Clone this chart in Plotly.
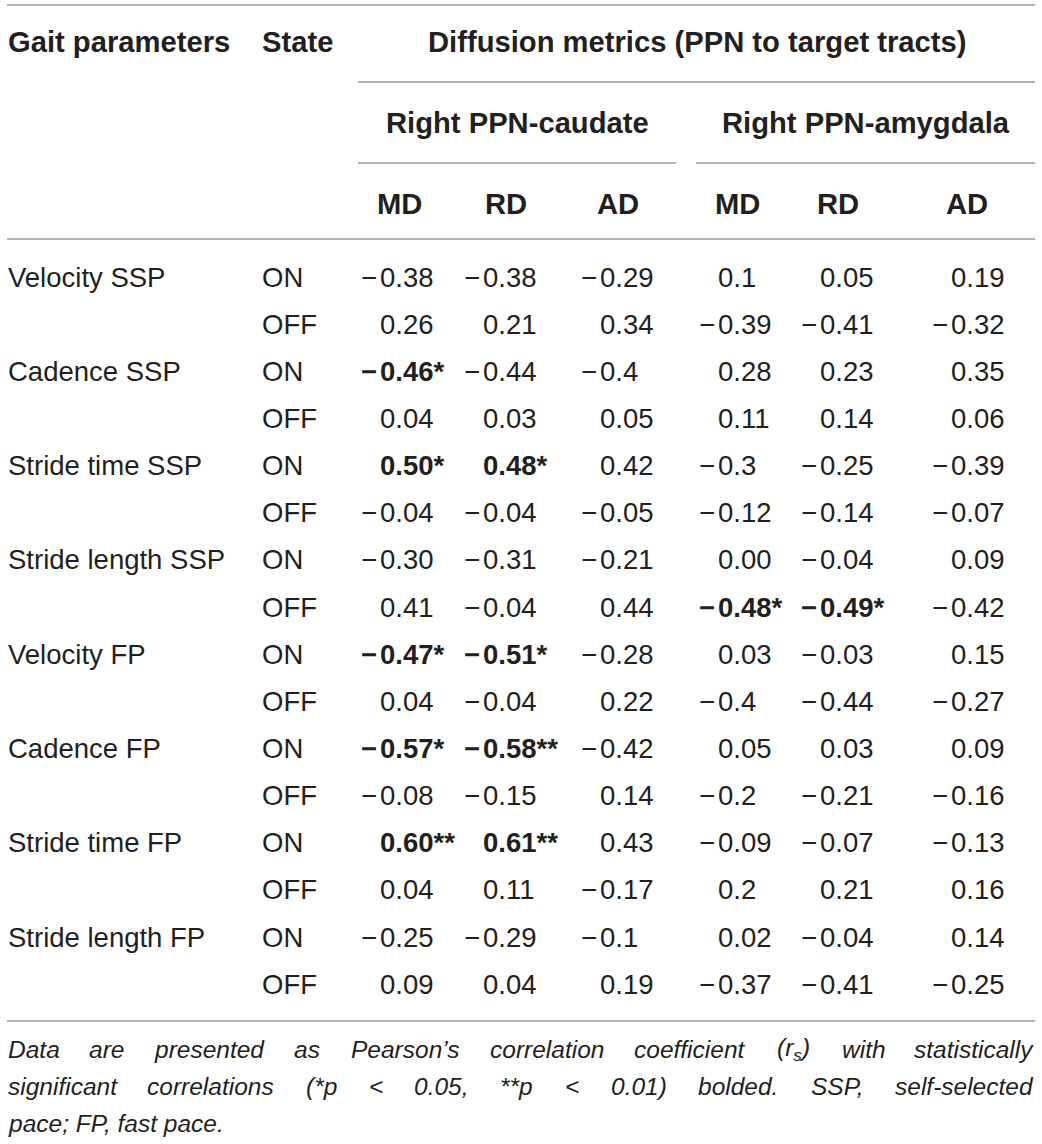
import plotly.graph_objects as go

# ---------------- table content ----------------
gait_params = ["Velocity SSP", "Cadence SSP", "Stride time SSP", "Stride length SSP",
               "Velocity FP", "Cadence FP", "Stride time FP", "Stride length FP"]
states = ["ON", "OFF"]
tracts = ["Right PPN-caudate", "Right PPN-amygdala"]
metrics = ["MD", "RD", "AD", "MD", "RD", "AD"]

caudate_md = ["−0.38", "0.26", "−0.46*", "0.04", "0.50*", "−0.04", "−0.30", "0.41",
              "−0.47*", "0.04", "−0.57*", "−0.08", "0.60**", "0.04", "−0.25", "0.09"]
caudate_rd = ["−0.38", "0.21", "−0.44", "0.03", "0.48*", "−0.04", "−0.31", "−0.04",
              "−0.51*", "−0.04", "−0.58**", "−0.15", "0.61**", "0.11", "−0.29", "0.04"]
caudate_ad = ["−0.29", "0.34", "−0.4", "0.05", "0.42", "−0.05", "−0.21", "0.44",
              "−0.28", "0.22", "−0.42", "0.14", "0.43", "−0.17", "−0.1", "0.19"]
amygdala_md = ["0.1", "−0.39", "0.28", "0.11", "−0.3", "−0.12", "0.00", "−0.48*",
               "0.03", "−0.4", "0.05", "−0.2", "−0.09", "0.2", "0.02", "−0.37"]
amygdala_rd = ["0.05", "−0.41", "0.23", "0.14", "−0.25", "−0.14", "−0.04", "−0.49*",
               "−0.03", "−0.44", "0.03", "−0.21", "−0.07", "0.21", "−0.04", "−0.41"]
amygdala_ad = ["0.19", "−0.32", "0.35", "0.06", "−0.39", "−0.07", "0.09", "−0.42",
               "0.15", "−0.27", "0.09", "−0.16", "−0.13", "0.16", "0.14", "−0.25"]
columns = [caudate_md, caudate_rd, caudate_ad, amygdala_md, amygdala_rd, amygdala_ad]

header_gait = "Gait parameters"
header_state = "State"
header_group = "Diffusion metrics (PPN to target tracts)"
footnote = [
    "Data are presented as Pearson’s correlation coefficient (r<sub>s</sub>) with statistically",
    "significant correlations (*p < 0.05, **p < 0.01) bolded. SSP, self-selected",
    "pace; FP, fast pace.",
]

# ---------------- layout constants (pixels) ----------------
W, H = 1042, 1144
LEFT, RIGHT = 7, 1035
ROW0, ROW_H = 277, 47.15
COL_X = [379, 482, 599, 717, 819, 950]        # where the leading digit starts
HEAD_X = [399, 506, 618, 737, 838, 967]
TRACT_SPAN = [(358, 676), (696, 1035)]
INK = "#231f20"
RULE = "#9a9a9a"
FONT = "Liberation Sans, Arial, Helvetica, sans-serif"
DATA_SIZE = 27.5
HEAD_SIZE = 29.2
NOTE_SIZE = 24.5

# rough Arial advance widths, 1/1000 em
_widths = {" ": 278, "i": 222, "j": 222, "l": 222, "f": 278, "t": 278, ".": 278,
           ",": 278, ";": 278, "’": 222, "r": 333, "(": 333, ")": 333, "-": 333,
           "*": 389, "<": 584, "m": 833, "w": 722, "c": 500, "k": 500, "s": 500,
           "v": 500, "x": 500, "y": 500, "z": 500, "F": 611, "P": 667, "S": 667,
           "D": 722}


def text_width(word, size):
    word = word.replace("<sub>", "").replace("</sub>", "")
    return sum(_widths.get(ch, 556) for ch in word) * size / 1000.


def label(x, y, text, size=DATA_SIZE, anchor="left", bold=False, italic=False):
    if bold:
        text = f"<b>{text}</b>"
    if italic:
        text = f"<i>{text}</i>"
    return dict(x=x, y=y, xref="x", yref="y", text=text, showarrow=False,
                xanchor=anchor, yanchor="middle", borderpad=0,
                font=dict(family=FONT, size=size, color=INK))


def rule(x0, x1, y):
    return dict(type="line", xref="x", yref="y", x0=x0, x1=x1, y0=y, y1=y,
                line=dict(color=RULE, width=1.6))


annotations = []
shapes = [rule(LEFT, RIGHT, 5), rule(358, RIGHT, 82),
          rule(*TRACT_SPAN[0], 163), rule(*TRACT_SPAN[1], 163),
          rule(LEFT, RIGHT, 239), rule(LEFT, RIGHT, 1021)]

# headers
annotations.append(label(LEFT, 42, header_gait, HEAD_SIZE, bold=True))
annotations.append(label(261, 42, header_state, HEAD_SIZE, bold=True))
annotations.append(label((TRACT_SPAN[0][0] + TRACT_SPAN[1][1]) / 2, 42,
                         header_group, HEAD_SIZE, anchor="center", bold=True))
for (x0, x1), name in zip(TRACT_SPAN, tracts):
    annotations.append(label((x0 + x1) / 2, 123, name, HEAD_SIZE, anchor="center", bold=True))
for x, name in zip(HEAD_X, metrics):
    annotations.append(label(x, 204, name, HEAD_SIZE, anchor="center", bold=True))

# body
for i in range(len(gait_params) * len(states)):
    y = ROW0 + i * ROW_H
    if i % 2 == 0:
        annotations.append(label(LEFT, y, gait_params[i // 2]))
    annotations.append(label(261, y, states[i % 2]))
    for x, col in zip(COL_X, columns):
        val = col[i]
        bold = "*" in val
        if val.startswith("−"):
            annotations.append(label(x - 1, y, "−", anchor="right", bold=bold))
            val = val[1:]
        annotations.append(label(x, y, val, bold=bold))

# footnote, first two lines justified
for k, line in enumerate(footnote):
    y = 1049 + k * 37
    if k == len(footnote) - 1:
        annotations.append(label(LEFT, y, line, NOTE_SIZE, italic=True))
        continue
    words = line.split(" ")
    sizes = [text_width(w, NOTE_SIZE) for w in words]
    gap = (RIGHT - LEFT - sum(sizes)) / (len(words) - 1)
    pos = LEFT
    for j, (w, s) in enumerate(zip(words, sizes)):
        if j == 0:
            annotations.append(label(LEFT, y, w, NOTE_SIZE, italic=True))
        elif j == len(words) - 1:
            annotations.append(label(RIGHT, y, w, NOTE_SIZE, anchor="right", italic=True))
        else:
            annotations.append(label(pos + s / 2, y, w, NOTE_SIZE, anchor="center", italic=True))
        pos += s + gap

fig = go.Figure()
fig.add_trace(go.Scatter(x=[0, W], y=[0, H], mode="markers",
                         marker=dict(opacity=0), hoverinfo="skip", showlegend=False))
fig.update_layout(
    width=W, height=H,
    margin=dict(l=0, r=0, t=0, b=0),
    paper_bgcolor="white", plot_bgcolor="white",
    xaxis=dict(range=[0, W], visible=False, fixedrange=True),
    yaxis=dict(range=[H, 0], visible=False, fixedrange=True),
    annotations=annotations,
    shapes=shapes,
    showlegend=False,
)
# the page body has a default 8px margin; drop it so the table sits at the origin
fig.write_html("out.html", config={"displayModeBar": False},
               post_script="document.body.style.margin = '0px';")
